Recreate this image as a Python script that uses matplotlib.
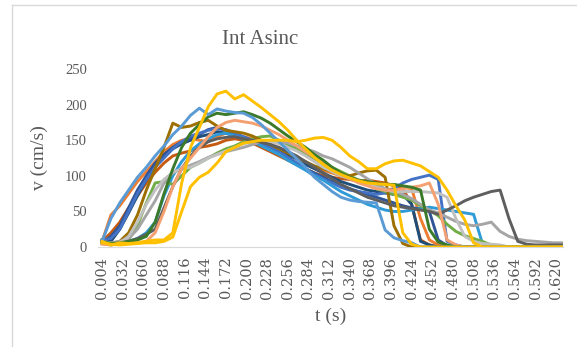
import numpy as np
import matplotlib
matplotlib.use("Agg")
import matplotlib.pyplot as plt
from matplotlib.lines import Line2D

plt.rcParams['font.family'] = ['Liberation Serif', 'DejaVu Serif']

# time grid (s), one sample every 0.012 s
t = np.round(0.004 + 0.012 * np.arange(53), 3)

# velocity series (cm/s)
orange = [8, 45, 58, 75, 92, 106, 120, 134, 144, 150,
          152, 150, 148, 155, 160, 158, 155, 152, 148, 142,
          136, 130, 124, 118, 112, 108, 104, 100, 96, 92,
          88, 84, 80, 82, 84, 82, 40, 10, 3, 0,
          0, 0, 0, 0, 0, 0, 0, 0, 0, 0, 0, 0, 0]
rust = [8, 20, 35, 55, 72, 90, 105, 118, 128, 132,
        135, 140, 142, 145, 150, 152, 150, 146, 140, 134,
        128, 122, 116, 110, 104, 100, 98, 96, 95, 92,
        94, 92, 90, 86, 82, 60, 10, 3, 0, 0,
        0, 0, 0, 0, 0, 0, 0, 0, 0, 0, 0, 0, 0]
navy = [10, 8, 25, 48, 72, 95, 115, 128, 138, 145,
        150, 155, 158, 162, 160, 156, 152, 150, 148, 144,
        138, 130, 124, 116, 110, 104, 98, 92, 88, 84,
        80, 78, 76, 74, 74, 60, 8, 3, 0, 0,
        0, 0, 0, 0, 0, 0, 0, 0, 0, 0, 0, 0, 0]
navy2 = [6, 15, 30, 55, 80, 100, 118, 130, 140, 148,
         152, 158, 165, 168, 164, 158, 154, 150, 146, 140,
         134, 126, 118, 110, 104, 98, 92, 86, 82, 78,
         74, 70, 66, 62, 58, 55, 54, 50, 10, 2,
         0, 0, 0, 0, 0, 0, 0, 0, 0, 0, 0, 0, 0]
blue = [10, 12, 25, 50, 75, 95, 112, 125, 138, 148,
        156, 160, 164, 166, 165, 160, 155, 150, 145, 140,
        134, 126, 118, 110, 102, 96, 90, 84, 80, 78,
        76, 74, 76, 82, 90, 95, 98, 101, 95, 8,
        3, 0, 0, 0, 0, 0, 0, 0, 0, 0, 0, 0, 0]
cyan = [5, 4, 6, 8, 12, 20, 35, 72, 100, 120,
        135, 145, 152, 158, 160, 156, 152, 148, 142, 136,
        130, 122, 115, 108, 100, 94, 86, 78, 72, 66,
        60, 56, 52, 50, 50, 52, 54, 56, 54, 52,
        50, 48, 46, 5, 2, 0, 0, 0, 0, 0, 0, 0, 0]
green = [5, 3, 5, 10, 30, 62, 90, 92, 88, 100,
         112, 118, 125, 132, 138, 142, 148, 152, 155, 156,
         150, 144, 138, 130, 124, 118, 112, 106, 100, 94,
         88, 82, 78, 74, 70, 66, 58, 52, 44, 32,
         22, 16, 12, 8, 3, 0, 0, 0, 0, 0, 0, 0, 0]
brown = [6, 5, 8, 20, 45, 80, 110, 140, 174, 168,
         170, 175, 178, 170, 164, 162, 160, 156, 150, 144,
         138, 132, 126, 120, 114, 110, 106, 102, 100, 104,
         107, 108, 98, 30, 5, 0, 0, 0, 0, 0,
         0, 0, 0, 0, 0, 0, 0, 0, 0, 0, 0, 0, 0]
gray = [8, 6, 8, 12, 25, 45, 65, 90, 104, 110,
        115, 120, 126, 130, 134, 137, 140, 144, 148, 150,
        148, 146, 142, 138, 134, 128, 124, 118, 112, 104,
        96, 88, 82, 78, 74, 68, 60, 52, 48, 42,
        36, 32, 30, 32, 35, 22, 15, 11, 9, 8, 7, 6, 6]
silver = [5, 4, 6, 15, 35, 60, 80, 95, 105, 110,
          112, 118, 125, 130, 135, 140, 145, 148, 150, 148,
          145, 140, 135, 128, 120, 112, 106, 100, 96, 92,
          88, 84, 80, 78, 78, 78, 78, 77, 76, 70,
          40, 15, 8, 5, 4, 3, 0, 0, 0, 0, 0, 0, 0]
darkgray = [6, 4, 5, 8, 12, 18, 25, 55, 85, 110,
            128, 140, 148, 152, 154, 155, 152, 150, 147, 144,
            140, 134, 128, 120, 112, 104, 96, 88, 82, 76,
            70, 66, 62, 58, 56, 54, 52, 50, 46, 52,
            58, 65, 70, 74, 78, 80, 40, 8, 4, 3, 3, 3, 3]
salmon = [4, 3, 4, 5, 6, 8, 20, 50, 85, 110,
          125, 140, 155, 168, 175, 178, 176, 174, 170, 164,
          158, 150, 142, 134, 126, 118, 110, 102, 96, 90,
          86, 82, 80, 80, 82, 84, 86, 90, 60, 10,
          3, 0, 0, 0, 0, 0, 0, 0, 0, 0, 0, 0, 0]
darkgreen = [8, 5, 6, 8, 10, 15, 35, 75, 110, 140,
             160, 172, 183, 188, 186, 188, 190, 186, 181, 174,
             165, 156, 148, 140, 130, 122, 112, 104, 98, 94,
             92, 90, 88, 88, 86, 84, 80, 25, 7, 3,
             0, 0, 0, 0, 0, 0, 0, 0, 0, 0, 0, 0, 0]
lightblue = [8, 40, 62, 80, 98, 112, 128, 142, 158, 170,
             185, 195, 186, 194, 191, 189, 188, 182, 172, 160,
             148, 136, 124, 112, 98, 88, 78, 70, 66, 64,
             63, 62, 24, 13, 9, 6, 0, 0, 0, 0,
             0, 0, 0, 0, 0, 0, 0, 0, 0, 0, 0, 0, 0]
yellow_b = [6, 4, 3, 4, 5, 6, 6, 8, 14, 50,
            85, 98, 105, 118, 134, 140, 146, 148, 150, 150,
            150, 150, 148, 150, 153, 154, 150, 140, 128, 120,
            110, 110, 117, 121, 122, 118, 114, 106, 98, 80,
            58, 38, 6, 0, 0, 0, 0, 0, 0, 0, 0, 0, 0]
yellow_a = [8, 3, 6, 5, 6, 8, 10, 10, 20, 90,
            140, 168, 197, 215, 219, 208, 214, 205, 196, 186,
            176, 164, 150, 138, 126, 116, 108, 102, 97, 93,
            90, 89, 88, 87, 20, 4, 0, 0, 0, 0,
            0, 0, 0, 0, 0, 0, 0, 0, 0, 0, 0, 0, 0]

series = [
    (orange, '#ED7D31'), (rust, '#C55A11'), (navy, '#1F4E79'),
    (navy2, '#2F5597'), (blue, '#4472C4'), (cyan, '#2E9BD6'),
    (green, '#70AD47'), (brown, '#9C6F00'), (gray, '#A5A5A5'),
    (silver, '#C0C0C0'), (darkgray, '#5E5E5E'), (salmon, '#F4A070'),
    (darkgreen, '#3A7A2A'), (lightblue, '#5B9BD5'),
    (yellow_b, '#FFC000'), (yellow_a, '#FFC000'),
]

tick_pos = np.round(0.004 + 0.028 * np.arange(23), 3)
tick_labels = ['%.3f' % v for v in tick_pos]

fig = plt.figure(figsize=(5.77, 3.47), dpi=100)
ax = fig.add_axes([0.170, 0.288, 0.806, 0.513])

for vals, col in series:
    ax.plot(t, vals, color=col, lw=2.1, solid_joinstyle='round')

ax.set_xlim(-0.0014, 0.6295)
ax.set_ylim(0, 250)
ax.set_yticks([0, 50, 100, 150, 200, 250])
ax.set_xticks(tick_pos)
ax.set_xticklabels(tick_labels, rotation=90, family=['DejaVu Serif'], fontsize=9.5)
ax.tick_params(length=0, labelsize=10.5, colors='#595959')
ax.tick_params(axis='y', pad=8)
ax.tick_params(axis='x', pad=7)
for s in ['top', 'right', 'left']:
    ax.spines[s].set_visible(False)
ax.spines['bottom'].set_color('#D9D9D9')
ax.spines['bottom'].set_zorder(0)

ax.set_xlabel('t (s)', fontsize=14, color='#595959', labelpad=6)
ax.set_ylabel('v (cm/s)', fontsize=14, color='#595959', labelpad=12)
fig.text(0.45, 0.885, 'Int Asinc', fontsize=15, color='#595959', ha='center', va='center')

# chart frame edges
fig.add_artist(Line2D([12 / 577, 12 / 577], [0, 1 - 5 / 347], color='#D9D9D9', lw=1))
fig.add_artist(Line2D([12 / 577, 1], [1 - 5 / 347, 1 - 5 / 347], color='#D9D9D9', lw=1))

fig.savefig('out.png', dpi=100)
